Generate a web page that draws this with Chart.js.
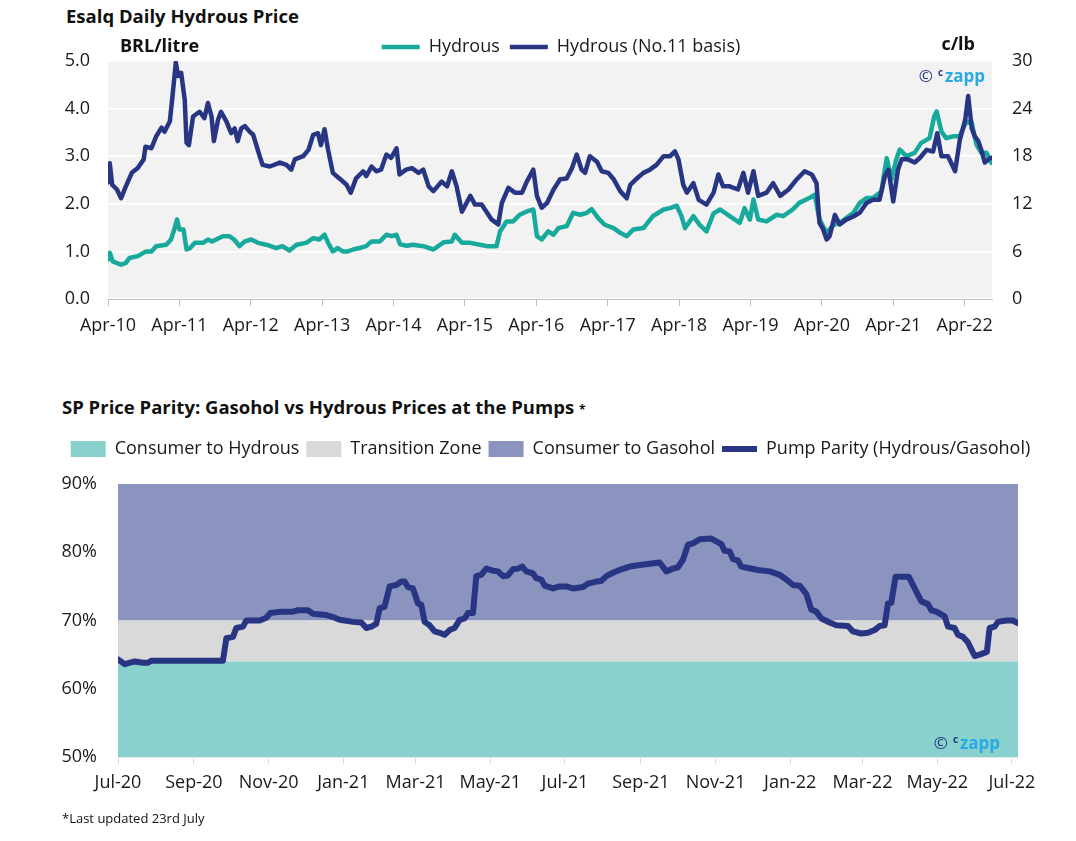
<!DOCTYPE html>
<html><head><meta charset="utf-8">
<script src="https://cdn.jsdelivr.net/npm/chart.js@4.4.0/dist/chart.umd.min.js"></script>
<style>
body{margin:0;background:#fff;width:1076px;height:841px;position:relative;overflow:hidden;font-family:'Open Sans',sans-serif;color:#111}
.t{position:absolute;font-weight:bold;white-space:nowrap;color:#111}
canvas{position:absolute;left:0}
</style></head><body>
<div class="t" style="left:66px;top:4px;font-size:18.5px;line-height:24px">Esalq Daily Hydrous Price</div>
<canvas id="c1" width="1076" height="345" style="top:0"></canvas>
<div class="t" style="left:62px;top:395px;font-size:18.5px;line-height:24px">SP Price Parity: Gasohol vs Hydrous Prices at the Pumps <span style="font-size:12px">*</span></div>
<canvas id="c2" width="1076" height="390" style="top:425px"></canvas>
<div style="position:absolute;left:62px;top:809px;font-size:13px;line-height:18px;color:#111">*Last updated 23rd July</div>
<script>
// ---------- Top chart data ----------
const monthTickLabels = ['Apr-10','Apr-11','Apr-12','Apr-13','Apr-14','Apr-15','Apr-16','Apr-17','Apr-18','Apr-19','Apr-20','Apr-21','Apr-22'];
// months since Apr-10
const hydMonths = [0,0.3,0.8,2.2,3,3.6,5,6.4,7.3,8.1,9.8,10.6,11.2,11.6,12,12.7,13.2,13.8,14.6,16,16.8,17.5,19.3,20.4,21.2,22.1,23,24.1,25.2,26.6,28.3,29.3,30.5,31.7,33.3,34.5,35.5,36.4,37,37.8,38.6,39.5,40.3,41.2,42.3,43.4,44.3,45.7,46.8,47.7,48.5,49.1,50.2,51.3,53,54.7,56.4,57.8,58.3,59.5,60.9,62.5,63.7,65.3,65.9,67,68.1,69.2,70.4,71.5,72.1,72.9,74,74.9,75.7,77.1,78.2,79.4,80.5,81.3,82.4,83.5,85,86.1,87.2,88.3,90,91.6,93.4,94.5,95.6,96.4,97,98.4,99.5,100.6,101.8,102.9,104.5,106.2,107,107.9,108.5,109.3,110.7,112.4,113.5,115.1,116.2,117.9,118.8,119.6,120.8,122,123,124.1,125.3,126.4,127.5,128.6,130,130.9,131.7,132.5,133.1,134.2,135.6,136.7,138.1,138.9,139.3,140.1,140.9,142.1,143.2,144.3,145.2,146,146.8,147.7,148.5];
// BRL/litre
const hydPrices = [0.83,0.97,0.79,0.72,0.76,0.86,0.9,1.0,1.0,1.11,1.14,1.25,1.49,1.67,1.46,1.46,1.04,1.07,1.18,1.18,1.25,1.21,1.32,1.32,1.25,1.11,1.21,1.25,1.18,1.14,1.07,1.11,1.02,1.14,1.18,1.28,1.25,1.35,1.18,1.0,1.07,1.0,1.0,1.04,1.07,1.11,1.21,1.21,1.35,1.32,1.35,1.15,1.12,1.14,1.11,1.04,1.19,1.21,1.35,1.18,1.18,1.14,1.11,1.11,1.42,1.63,1.63,1.77,1.84,1.88,1.32,1.25,1.42,1.35,1.49,1.53,1.81,1.77,1.81,1.89,1.7,1.56,1.49,1.39,1.32,1.46,1.49,1.74,1.88,1.91,1.96,1.74,1.49,1.74,1.55,1.42,1.8,1.88,1.74,1.6,1.91,1.67,2.09,1.67,1.63,1.77,1.74,1.88,2.02,2.12,2.19,1.67,1.39,1.56,1.6,1.7,1.81,2.02,2.12,2.12,2.26,2.96,2.51,2.93,3.14,3.0,3.07,3.28,3.38,3.84,3.94,3.52,3.38,3.42,3.42,3.73,3.7,3.24,3.07,3.07,2.86];
const basisMonths = [0,0.3,0.7,1.5,2.2,3,4,5,6,6.3,7.3,8.1,9,9.5,10.4,10.9,11.4,11.8,12.3,12.9,13.2,13.6,14.3,15.4,16.2,16.8,17.4,17.8,18.5,19,19.9,20.7,21.3,21.8,22.4,23,23.8,24.4,25.5,26,27.2,28.9,30,30.8,31.4,32.8,33.7,34.5,35.3,35.8,36.4,37,37.8,38.9,40.1,40.8,41.7,42.9,43.4,44.3,45.1,45.9,46.8,47.6,48.5,49,50.1,51.1,52.2,53,53.9,54.7,56.1,57,57.8,58.6,59.5,60.9,61.7,62.8,63.7,64.5,65.6,66.2,67.3,68.4,69.6,70.4,71.5,72.1,72.9,73.8,74.9,76,77.1,78,78.8,79.6,80.2,81,82.2,83,84.1,85,86.1,87.2,87.8,88.9,90,91.1,92.2,93.4,94.5,95.3,95.9,96.7,97.3,98.4,99.3,100.6,101.8,102.6,103.4,104.5,105.9,106.8,107.6,108.5,109.3,110.7,111.8,113,114.4,115.8,117.1,118.3,119.1,119.6,120.2,120.8,121.3,122.2,123,124.1,125.3,126.4,127.5,128.6,129.7,130.6,131.2,132,132.8,133.4,134.5,135.6,136.5,137.6,138.7,139.4,140.1,141.2,142.4,143.2,144.1,144.6,145.2,145.7,146.3,146.8,147.4,148,148.5];
// c/lb
const basisPrices = [14.7,17.1,14.4,13.8,12.7,14.2,15.9,16.5,17.6,19.2,19.0,20.5,21.6,21.1,22.4,26.0,29.8,28.1,28.5,25.1,19.7,19.4,23.0,23.6,22.8,24.7,23.0,19.9,22.6,23.6,22.4,20.9,21.5,19.9,21.5,21.8,21.1,20.7,18.0,16.9,16.7,17.2,16.9,16.3,17.6,18.0,18.8,20.7,20.9,19.4,21.4,18.8,15.9,15.2,14.4,13.4,15.2,16.1,15.5,16.7,16.1,16.3,18.2,17.8,19.0,15.7,16.3,16.5,15.9,16.3,14.2,13.6,14.8,14.2,16.1,14.2,11.0,13.0,11.9,11.9,10.9,10.0,9.4,12.1,14.0,13.4,13.4,14.8,16.3,13.0,11.5,12.1,13.8,15.1,15.2,16.5,18.2,16.3,15.9,18.0,17.3,16.1,15.9,15.1,13.6,12.7,14.4,15.2,15.9,16.3,16.9,18.0,18.0,18.6,17.6,14.4,13.4,14.6,12.5,11.9,13.4,15.7,14.2,14.2,13.8,15.9,13.4,16.1,13.0,13.4,14.6,13.0,13.8,15.1,16.1,15.7,14.6,9.6,8.8,7.5,7.9,10.6,9.4,10.0,10.4,10.9,12.1,12.5,12.5,15.5,16.3,12.3,16.3,17.6,17.6,17.2,17.8,18.8,18.6,20.9,18.0,18.0,16.1,20.1,22.6,25.6,21.5,20.5,19.9,18.8,17.2,17.6,17.8];

// ---------- Bottom chart data ----------
const dayTickLabels = ['Jul-20','Sep-20','Nov-20','Jan-21','Mar-21','May-21','Jul-21','Sep-21','Nov-21','Jan-22','Mar-22','May-22','Jul-22'];
// days since 1 Jul 2020
const parityDays = [0,5.4,13.6,20.4,24.5,27.2,85.7,88.5,93.9,96.6,102,104.8,115.7,121.1,124.4,133.4,142.9,147,155.1,159.2,170.1,175.6,181,191.9,198.7,202.8,206.9,210.9,213.7,217.7,221.8,227.3,231.4,234.1,236.8,240.9,245,247.7,250.4,254.5,258.6,262.7,266.7,270.8,274.9,279,283.1,285.8,289.9,292.6,296.7,300.8,306.2,310.3,314.4,318.4,322.5,326.6,330.2,333.4,338.9,341.6,345.7,348.4,355.2,360.6,366.1,371.6,379.8,383.8,390.6,394.7,398.8,404.2,411,417.9,424.7,434.2,442.3,447.8,453.2,457.3,461.4,465.5,469.6,475,484.5,488.6,492.7,495.4,499.5,502.2,506.3,509,514.5,522.7,532.2,540.3,545.8,551.2,556.7,562.1,566.2,570.3,574.4,581.2,586.6,596.1,600.2,607,612.5,617.9,622,626.1,628.8,631.5,635,645.9,650.6,656,661.5,664.2,668.3,675.1,677.8,683.2,686,690.1,694.1,699.6,703.7,709.6,711.8,715.9,718.6,725.4,730.8,734.9];
const parityValues = [64.3,63.6,64.0,63.8,63.8,64.1,64.1,67.4,67.6,68.9,69.1,70.0,70.0,70.4,71.1,71.3,71.3,71.5,71.5,71.0,70.8,70.5,70.1,69.8,69.7,68.9,69.1,69.5,71.8,72.0,75.0,75.2,75.7,75.7,74.9,74.7,72.5,72.3,69.8,69.3,68.4,68.2,67.9,68.6,68.9,70.1,70.3,71.1,71.1,76.5,76.7,77.6,77.3,77.2,76.5,76.6,77.5,77.6,77.9,77.2,76.9,76.2,76.0,75.1,74.7,75.0,75.0,74.7,74.9,75.4,75.7,75.8,76.5,77.0,77.5,77.9,78.1,78.3,78.5,77.2,77.6,77.8,78.9,81.1,81.3,81.9,82.0,81.6,81.2,80.2,80.1,79.0,78.8,77.9,77.7,77.4,77.2,76.7,76.0,75.2,75.1,73.9,71.6,71.3,70.3,69.7,69.3,69.2,68.4,68.1,68.2,68.6,69.2,69.3,72.5,72.6,76.4,76.4,74.7,72.8,72.4,71.5,71.3,70.6,69.1,68.9,67.9,67.6,66.8,64.8,65.0,65.4,68.9,69.1,69.8,70.0,70.0,69.6];
const bandLabels = ['Consumer to Hydrous','Transition Zone','Consumer to Gasohol'];
const bandTops = [64, 70, 90];

// ---------- Styles ----------
const FONT = "'Open Sans', sans-serif";
const NAVY = '#283583';
const TEAL = '#17a99b';
const BAND_COLORS = ['#88d1cc', '#d9d9d9', '#8b93bf'];
const TXT = '#1a1a1a';
Chart.defaults.font.family = FONT;
Chart.defaults.color = TXT;

const toPts = (xs, ys) => xs.map((x, i) => ({x, y: ys[i]}));

const legendHeight = h => ({
  id: 'legendHeight',
  afterInit(chart) {
    const lg = chart.legend;
    const f = lg.fit;
    lg.fit = function () { f.call(this); this.height = h; };
  }
});

const plotBg = {
  id: 'plotBg',
  beforeDraw(chart, args, opts) {
    if (!opts.color) return;
    const {ctx, chartArea: a} = chart;
    ctx.save();
    ctx.fillStyle = opts.color;
    ctx.fillRect(a.left, a.top, a.right - a.left, a.bottom - a.top);
    ctx.restore();
  }
};

function drawCzapp(ctx, xRight, yMid) {
  ctx.save();
  ctx.textBaseline = 'middle';
  ctx.font = "bold 17px " + FONT;
  const wZ = ctx.measureText('zapp').width;
  ctx.fillStyle = '#2aaae2';
  ctx.textAlign = 'left';
  const xz = xRight - wZ;
  ctx.fillText('zapp', xz, yMid);
  ctx.fillStyle = NAVY;
  ctx.font = "bold 10px " + FONT;
  ctx.fillText('c', xz - 7, yMid - 4);
  ctx.font = "17px " + FONT;
  const wc = ctx.measureText('©').width;
  ctx.fillText('©', xz - 12 - wc, yMid);
  ctx.restore();
}

const annotTop = {
  id: 'annotTop',
  afterDraw(chart) {
    const {ctx, chartArea: a} = chart;
    ctx.save();
    ctx.fillStyle = '#111';
    ctx.font = "bold 18px " + FONT;
    ctx.textBaseline = 'middle';
    ctx.textAlign = 'left';
    ctx.fillText('BRL/litre', 120, 47);
    ctx.textAlign = 'right';
    ctx.fillText('c/lb', 975, 45);
    ctx.restore();
    drawCzapp(ctx, a.right - 7, a.top + 16);
  }
};

const annotBottom = {
  id: 'annotBottom',
  afterDraw(chart) {
    const a = chart.chartArea;
    drawCzapp(chart.ctx, a.right - 18, a.bottom - 13);
  }
};

const tickFont = {family: FONT, size: 18};

// ---------- Top chart ----------
new Chart(document.getElementById('c1'), {
  type: 'line',
  data: {
    datasets: [
      {label: 'Hydrous', data: toPts(hydMonths, hydPrices), borderColor: TEAL, backgroundColor: TEAL,
       borderWidth: 4.5, borderCapStyle: 'round', borderJoinStyle: 'round', pointRadius: 0, tension: 0, yAxisID: 'y', order: 1, pointStyle: 'line'},
      {label: 'Hydrous (No.11 basis)', data: toPts(basisMonths, basisPrices), borderColor: NAVY, backgroundColor: NAVY,
       borderWidth: 4.5, borderCapStyle: 'round', borderJoinStyle: 'round', pointRadius: 0, tension: 0, yAxisID: 'y2', order: 0, pointStyle: 'line'}
    ]
  },
  options: {
    responsive: false, animation: false, events: [],
    layout: {padding: {left: 46, right: 0, top: 28, bottom: 0}},
    plugins: {
      plotBg: {color: '#f2f2f2'},
      tooltip: {enabled: false},
      legend: {
        position: 'top',
        labels: {usePointStyle: true, pointStyleWidth: 38, padding: 10, color: TXT, font: tickFont,
                 sort: (a, b) => a.datasetIndex - b.datasetIndex}
      }
    },
    scales: {
      x: {
        type: 'linear', min: 0, max: 148.6,
        afterBuildTicks: s => { s.ticks = monthTickLabels.map((_, i) => ({value: i * 12})); },
        ticks: {callback: (v, i) => monthTickLabels[i], padding: 9, maxRotation: 0, autoSkip: false, color: TXT, font: tickFont},
        grid: {drawOnChartArea: false, drawTicks: true, tickLength: 7, color: '#bfbfbf'},
        border: {display: true, color: '#bfbfbf'},
        afterFit: s => { s.height = 46; }
      },
      y: {
        position: 'left', min: 0, max: 5,
        ticks: {stepSize: 1, callback: v => v.toFixed(1), padding: 18, color: TXT, font: tickFont},
        grid: {color: '#ffffff', lineWidth: 1.5, drawTicks: false},
        border: {display: false},
        afterFit: s => { s.width = 62; }
      },
      y2: {
        position: 'right', min: 0, max: 30,
        ticks: {stepSize: 6, padding: 20, color: TXT, font: tickFont},
        grid: {display: false, drawTicks: false},
        border: {display: false},
        afterFit: s => { s.width = 84; }
      }
    }
  },
  plugins: [plotBg, legendHeight(33), annotTop]
});

// ---------- Bottom chart ----------
const X_END = 735;
const dayOf = lbl => {
  const mons = ['Jan','Feb','Mar','Apr','May','Jun','Jul','Aug','Sep','Oct','Nov','Dec'];
  const m = mons.indexOf(lbl.slice(0, 3));
  const y = 2000 + Number(lbl.slice(4));
  return (Date.UTC(y, m, 1) - Date.UTC(2020, 6, 1)) / 864e5;
};

const bandSets = bandLabels.map((lbl, i) => ({
  label: lbl,
  data: [{x: 0, y: bandTops[i]}, {x: X_END, y: bandTops[i]}],
  borderWidth: 0, borderColor: BAND_COLORS[i], backgroundColor: BAND_COLORS[i],
  pointRadius: 0, fill: i === 0 ? 'start' : '-1', order: 2, pointStyle: 'rect'
}));

new Chart(document.getElementById('c2'), {
  type: 'line',
  data: {
    datasets: [
      ...bandSets,
      {label: 'Pump Parity (Hydrous/Gasohol)', data: toPts(parityDays, parityValues), borderColor: NAVY, backgroundColor: NAVY,
       borderWidth: 6, borderCapStyle: 'round', borderJoinStyle: 'round', pointRadius: 0, tension: 0, fill: false, order: 0, pointStyle: 'line'}
    ]
  },
  options: {
    responsive: false, animation: false, events: [],
    layout: {padding: {left: 25, right: 0, top: 8, bottom: 0}},
    plugins: {
      tooltip: {enabled: false},
      legend: {
        position: 'top',
        labels: {usePointStyle: true, pointStyleWidth: 35, boxHeight: 16, padding: 7, color: TXT, font: tickFont,
                 sort: (a, b) => a.datasetIndex - b.datasetIndex}
      }
    },
    scales: {
      x: {
        type: 'linear', min: 0, max: X_END,
        afterBuildTicks: s => { s.ticks = dayTickLabels.map(l => ({value: dayOf(l)})); },
        ticks: {callback: (v, i) => dayTickLabels[i], padding: 8, maxRotation: 0, autoSkip: false, color: TXT, font: tickFont},
        grid: {drawOnChartArea: false, drawTicks: true, tickLength: 7, color: '#d9d9d9'},
        border: {display: true, color: '#e6e6e6'},
        afterFit: s => { s.height = 58; }
      },
      y: {
        position: 'left', min: 50, max: 90, z: 1,
        ticks: {stepSize: 2, autoSkip: false, callback: v => (v % 10 === 0 ? v + '%' : ''), padding: 21, color: TXT, font: tickFont},
        grid: {color: 'rgba(0,0,0,0.045)', lineWidth: 1, drawTicks: false},
        border: {display: false},
        afterFit: s => { s.width = 93; }
      },
      yRight: {
        position: 'right', min: 0, max: 1,
        ticks: {display: false},
        grid: {display: false, drawTicks: false},
        border: {display: false},
        afterFit: s => { s.width = 58; }
      }
    }
  },
  plugins: [legendHeight(51), annotBottom]
});
</script>
</body></html>
